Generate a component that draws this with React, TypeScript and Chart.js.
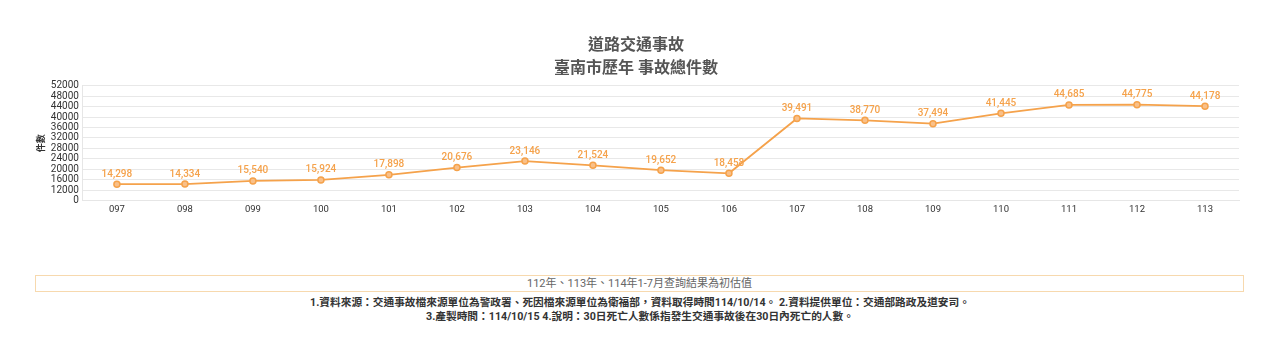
import React, { useEffect, useRef } from "react";
import { Chart, registerables } from "chart.js";

Chart.register(...registerables);

const categories = ["097", "098", "099", "100", "101", "102", "103", "104", "105", "106", "107", "108", "109", "110", "111", "112", "113"];
const totals = [14298, 14334, 15540, 15924, 17898, 20676, 23146, 21524, 19652, 18458, 39491, 38770, 37494, 41445, 44685, 44775, 44178];
const yMin = 8000;
const yMax = 52000;
const yStep = 4000;
const yBottomLabel = "0";
const titleLines = ["道路交通事故", "臺南市歷年 事故總件數"];
const yAxisTitle = "件數";
const noteText = "112年、113年、114年1-7月查詢結果為初估值";
const footerLines = [
  "1.資料來源：交通事故檔來源單位為警政署、死因檔來源單位為衛福部，資料取得時間114/10/14。 2.資料提供單位：交通部路政及道安司。",
  "3.產製時間：114/10/15 4.說明：30日死亡人數係指發生交通事故後在30日內死亡的人數。",
];

const ORANGE = "#f5a24b";
const FONT = "Roboto, 'Noto Sans CJK TC', sans-serif";

const labelPlugin = {
  id: "pointLabels",
  afterDatasetsDraw(chart: any) {
    const ctx = chart.ctx;
    const meta = chart.getDatasetMeta(0);
    ctx.save();
    ctx.font = `500 10px ${FONT}`;
    ctx.fillStyle = ORANGE;
    ctx.textAlign = "center";
    ctx.textBaseline = "bottom";
    meta.data.forEach((pt: any, i: number) => {
      ctx.fillText(totals[i].toLocaleString("en-US"), pt.x, pt.y - 5);
    });
    ctx.restore();
  },
};

export default function App() {
  const ref = useRef<HTMLCanvasElement>(null);
  useEffect(() => {
    document.body.style.margin = "0";
    const chart = new Chart(ref.current!, {
      type: "line",
      data: {
        labels: categories,
        datasets: [
          {
            data: totals,
            borderColor: ORANGE,
            backgroundColor: ORANGE,
            borderWidth: 1.8,
            pointRadius: 3,
            pointBackgroundColor: "#f9c089",
            pointBorderColor: ORANGE,
            pointBorderWidth: 1.5,
            tension: 0,
          },
        ],
      },
      options: {
        animation: false,
        responsive: false,
        maintainAspectRatio: false,
        layout: { padding: { top: 28, left: 33, right: 41, bottom: 0 } },
        plugins: {
          legend: { display: false },
          tooltip: { enabled: false },
          title: {
            display: true,
            text: titleLines,
            color: "#555555",
            font: { family: FONT, size: 16, weight: "bold", lineHeight: 1.4 },
            padding: { top: 0, bottom: 6 },
          },
        },
        scales: {
          x: {
            offset: true,
            grid: { display: false, drawTicks: false },
            border: { color: "#e6e6e6" },
            ticks: { color: "#333", font: { family: FONT, size: 9.5 }, padding: 3, autoSkip: false, maxRotation: 0 },
          },
          y: {
            min: yMin,
            max: yMax,
            ticks: {
              stepSize: yStep,
              autoSkip: false,
              color: "#333",
              font: { family: FONT, size: 10 },
              padding: 4,
              callback: (v: any) => (v === yMin ? yBottomLabel : String(v)),
            },
            grid: { color: "#e8e8e8", drawTicks: false },
            border: { color: "#e6e6e6" },
            title: {
              display: true,
              text: yAxisTitle,
              color: "#333",
              font: { family: FONT, size: 9, weight: "bold" },
              padding: { top: 3, bottom: 0 },
            },
          },
        },
      },
      plugins: [labelPlugin],
    });
    return () => chart.destroy();
  }, []);

  return (
    <div style={{ position: "relative", width: 1280, height: 359, background: "#fff", fontFamily: FONT }}>
      <canvas ref={ref} width={1280} height={211} style={{ position: "absolute", left: 0, top: 7, width: 1280, height: 211 }} />
      <div
        style={{
          position: "absolute",
          left: 35,
          top: 275,
          width: 1209,
          height: 17,
          boxSizing: "border-box",
          border: "1px solid #f7d9ae",
          textAlign: "center",
          fontSize: 11,
          lineHeight: "16px",
          color: "#666",
        }}
      >
        {noteText}
      </div>
      <div
        style={{
          position: "absolute",
          left: 0,
          top: 296,
          width: 1280,
          textAlign: "center",
          fontSize: 10.7,
          lineHeight: "14px",
          fontWeight: "bold",
          color: "#333",
        }}
      >
        {footerLines.map((l, i) => (
          <div key={i}>{l}</div>
        ))}
      </div>
    </div>
  );
}
